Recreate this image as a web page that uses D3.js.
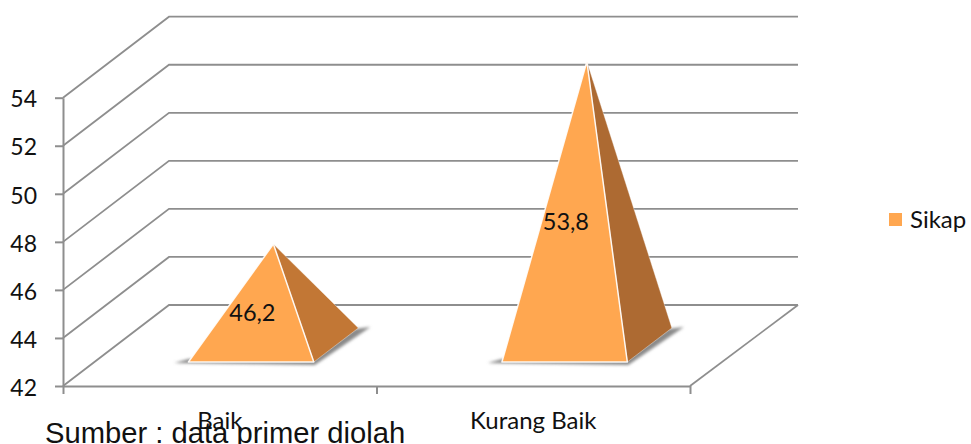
<!DOCTYPE html>
<html><head><meta charset="utf-8">
<script src="https://cdnjs.cloudflare.com/ajax/libs/d3/7.8.5/d3.min.js"></script>
<style>html,body{margin:0;padding:0;background:#fff}svg{display:block}</style>
</head><body><svg id="c" width="971" height="444"></svg>
<script>
const categories = ["Baik", "Kurang Baik"];
const sikapValues = [46.2, 53.8];
const yTicks = [42, 44, 46, 48, 50, 52, 54];
const seriesName = "Sikap";
const sourceNote = "Sumber : data primer diolah";

const svg = d3.select("#c");
const gridColor = "#8e8e8e", font = "Lato, 'Open Sans', sans-serif";
const x = d3.scaleBand().domain(categories).range([63, 690]);
const xEdge = d3.scaleLinear().domain([0, categories.length]).range([63, 690]);
const y = d3.scaleLinear().domain([42, 54]).range([386, 97.7]);
const depth = {dx: 106, dy: -81};
const P = (px, py, d) => [px + depth.dx * d, py + depth.dy * d];
const pathOf = pts => "M" + pts.map(p => p.join(",")).join("L") + "Z";
const wallRight = 798;

const defs = svg.append("defs");
defs.append("filter").attr("id", "blur").attr("x", "-20%").attr("y", "-30%").attr("width", "140%").attr("height", "160%")
  .append("feGaussianBlur").attr("stdDeviation", 1.8);

// walls and gridlines
const grid = svg.append("g").attr("fill", "none").attr("stroke", gridColor).attr("stroke-width", 1.8);
yTicks.forEach(t => {
  const a = P(x.range()[0], y(t), 0), b = P(x.range()[0], y(t), 1), c = [wallRight, b[1]];
  grid.append("path").attr("d", d3.line()([a, b, c]));
});
grid.append("path").attr("d", d3.line()([[x.range()[1], y(42)], [wallRight, y(42) + depth.dy]]));

// axes
const yAxis = svg.append("g").attr("transform", "translate(63,0)")
  .call(d3.axisLeft(y).tickValues(yTicks).tickSize(8).tickSizeOuter(0));
yAxis.selectAll("path,line").attr("stroke", gridColor).attr("stroke-width", 2);
yAxis.selectAll("text").attr("font-family", font).attr("font-size", 23).attr("fill", "#111").attr("x", -26).attr("dy", "0.4em").attr("text-anchor", "end");
const xAxis = svg.append("g").attr("transform", `translate(0,${y(42)})`)
  .call(d3.axisBottom(xEdge).tickValues(d3.range(categories.length + 1)).tickSize(8).tickSizeOuter(0).tickFormat(""));
xAxis.selectAll("path,line").attr("stroke", gridColor).attr("stroke-width", 2);

// pyramids
const widthFrac = 0.4, d0 = 0.296, d1 = 0.716;
const sideFill = ["#c27735", "#ad6a32"], frontFill = "#ffa750";
const marks = svg.append("g");
categories.forEach((cat, i) => {
  const cx = x(cat) + x.bandwidth() / 2, w = x.bandwidth() * widthFrac;
  const fl = P(cx - w / 2, y(42), d0), fr = P(cx + w / 2, y(42), d0);
  const br = P(cx + w / 2, y(42), d1);
  const apex = P(cx, y(sikapValues[i]), (d0 + d1) / 2);
  marks.append("path").attr("d", pathOf([[fl[0] - 14, fl[1] + 1], [fr[0] + 1, fr[1] + 3], [br[0] + 12, br[1] - 1], [br[0] - 4, br[1] + 1], [fr[0] - 3, fr[1] - 2], [fl[0], fl[1] - 3]]))
    .attr("fill", "#8a8a8a").attr("filter", "url(#blur)");
  marks.append("path").attr("d", pathOf([apex, fr, br])).attr("fill", sideFill[i]).attr("stroke", "#fff").attr("stroke-opacity", .35).attr("stroke-width", 1);
  marks.append("path").attr("d", pathOf([apex, fl, fr])).attr("fill", frontFill).attr("stroke", "#fff").attr("stroke-opacity", .9).attr("stroke-width", 1.5).attr("stroke-linejoin", "round");
  marks.append("text").text(String(sikapValues[i]).replace(".", ","))
    .attr("x", apex[0] - 21).attr("y", (apex[1] + fl[1]) / 2 + 9 + 9).attr("text-anchor", "middle")
    .attr("font-family", font).attr("font-size", 23.5).attr("fill", "#111");
});

// category labels
svg.append("g").selectAll("text").data(categories).join("text")
  .text(d => d).attr("x", d => x(d) + x.bandwidth() / 2).attr("y", 429).attr("text-anchor", "middle")
  .attr("font-family", font).attr("font-size", 24).attr("fill", "#111");

// legend
svg.append("rect").attr("x", 889).attr("y", 213).attr("width", 13).attr("height", 13).attr("fill", frontFill);
svg.append("text").text(seriesName).attr("x", 910).attr("y", 228).attr("font-family", font).attr("font-size", 24).attr("fill", "#111");

// source note
svg.append("text").text(sourceNote).attr("x", 45).attr("y", 443).attr("font-family", "'Liberation Sans', Arial, sans-serif").attr("font-size", 29.2).attr("fill", "#111");
</script></body></html>
